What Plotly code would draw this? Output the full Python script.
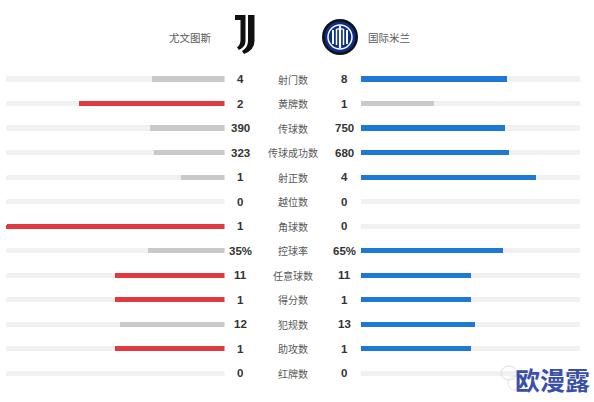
import plotly.graph_objects as go

# ---------------- data ----------------
labels = ['射门数', '黄牌数', '传球数', '传球成功数', '射正数', '越位数', '角球数',
          '控球率', '任意球数', '得分数', '犯规数', '助攻数', '红牌数']
home_vals = [4, 2, 390, 323, 1, 0, 1, 35, 11, 1, 12, 1, 0]
away_vals = [8, 1, 750, 680, 4, 0, 0, 65, 11, 1, 13, 1, 0]
suffix = ['', '', '', '', '', '', '', '%', '', '', '', '', '']
home_team = '尤文图斯'
away_team = '国际米兰'
watermark = '欧漫露'

# ---------------- styles ----------------
W, H = 594, 402
RED = '#df3a40'
BLUE = '#1d78d6'
LOSE = '#c9c9c9'
TRACK = '#f1f1f1'
CJK = 'Noto Sans CJK SC'

n = len(labels)
rows = list(range(n))
home_frac, away_frac, home_col, away_col = [], [], [], []
for h, a in zip(home_vals, away_vals):
    s = h + a
    home_frac.append(h / s if s else 0)
    away_frac.append(a / s if s else 0)
    home_col.append(RED if (h >= a and h > 0) else LOSE)
    away_col.append(BLUE if (a >= h and a > 0) else LOSE)

row0_px, row_step = 79, 24.53
y_top = -row0_px / row_step
y_bot = (H - row0_px) / row_step
bar_w = 5.2 / row_step

fig = go.Figure()
common = dict(orientation='h', width=bar_w, hoverinfo='skip', showlegend=False,
              marker_line_width=0, marker_cornerradius='50%')
fig.add_trace(go.Bar(x=[1] * n, y=rows, marker_color=TRACK, xaxis='x', yaxis='y', **common))
fig.add_trace(go.Bar(x=home_frac, y=rows, marker_color=home_col, xaxis='x', yaxis='y', **common))
fig.add_trace(go.Bar(x=[1] * n, y=rows, marker_color=TRACK, xaxis='x2', yaxis='y', **common))
fig.add_trace(go.Bar(x=away_frac, y=rows, marker_color=away_col, xaxis='x2', yaxis='y', **common))
# invisible trace for the pixel-space decoration axis
fig.add_trace(go.Scatter(x=[0], y=[0], mode='markers', marker_opacity=0,
                         xaxis='x3', yaxis='y3', hoverinfo='skip', showlegend=False))

annotations = []
for i in rows:
    annotations.append(dict(x=240 / W, y=i, xref='paper', yref='y', text=f'<b>{home_vals[i]}{suffix[i]}</b>',
                            showarrow=False, xanchor='center', yanchor='middle',
                            font=dict(family='Liberation Sans', size=11.5, color='#333333')))
    annotations.append(dict(x=344 / W, y=i, xref='paper', yref='y', text=f'<b>{away_vals[i]}{suffix[i]}</b>',
                            showarrow=False, xanchor='center', yanchor='middle',
                            font=dict(family='Liberation Sans', size=11.5, color='#333333')))
    annotations.append(dict(x=292.5 / W, y=i, xref='paper', yref='y', text=labels[i],
                            showarrow=False, xanchor='center', yanchor='middle',
                            font=dict(family=CJK, size=10, color='#595959')))

annotations.append(dict(x=190, y=37, xref='x3', yref='y3', text=home_team, showarrow=False,
                        font=dict(family=CJK, size=10.5, color='#595959')))
annotations.append(dict(x=389, y=37, xref='x3', yref='y3', text=away_team, showarrow=False,
                        font=dict(family=CJK, size=10.5, color='#595959')))
annotations.append(dict(x=552, y=379, xref='x3', yref='y3', text=f'<b>{watermark}</b>', showarrow=False,
                        font=dict(family=CJK, size=25, color='#3a4fa8')))

shapes = []
d = dict(xref='x3', yref='y3')
# Juventus logo (two J strokes)
shapes.append(dict(type='path', path='M235,15 L245.5,15 L245.5,41 Q245.5,47 239,50 L237,47.5 Q240.5,45 240.5,40 L240.5,20 L235,20 Z',
                   fillcolor='#111111', line_width=0, **d))
shapes.append(dict(type='path', path='M248,15 L254.5,15 L254.5,41 Q254.5,50 244,54 L242,51 Q248,47.5 248,40.5 Z',
                   fillcolor='#111111', line_width=0, **d))
# Inter logo
cx, cy = 340, 37
shapes.append(dict(type='circle', x0=cx - 18, x1=cx + 18, y0=cy - 18, y1=cy + 18,
                   fillcolor='#111111', line_width=0, **d))
shapes.append(dict(type='circle', x0=cx - 15.5, x1=cx + 15.5, y0=cy - 15.5, y1=cy + 15.5,
                   fillcolor='#0b2d8c', line_width=0, **d))
shapes.append(dict(type='circle', x0=cx - 12, x1=cx + 12, y0=cy - 12, y1=cy + 12,
                   fillcolor='rgba(0,0,0,0)', line=dict(color='white', width=1.5), **d))
for dx, y0, y1, wdt in [(-7, 30, 44, 2), (-3.5, 29, 45, 1.5), (0, 26, 48, 2.2),
                        (3.5, 29, 45, 1.5), (7, 30, 44, 2)]:
    shapes.append(dict(type='line', x0=cx + dx, x1=cx + dx, y0=y0, y1=y1,
                       line=dict(color='white', width=wdt), **d))
shapes.append(dict(type='line', x0=cx - 3.5, x1=cx + 3.5, y0=29, y1=29,
                   line=dict(color='white', width=1.2), **d))
# faint wechat-like marks by the watermark
shapes.append(dict(type='circle', x0=501, x1=517, y0=366, y1=380,
                   line=dict(color='#dddddd', width=1), fillcolor='rgba(0,0,0,0)', **d))
shapes.append(dict(type='circle', x0=508, x1=522, y0=376, y1=390,
                   line=dict(color='#e4e4e4', width=1), fillcolor='rgba(0,0,0,0)', **d))

hidden = dict(visible=False, fixedrange=True, showgrid=False, zeroline=False)
fig.update_layout(
    width=W, height=H, margin=dict(l=0, r=0, t=0, b=0),
    paper_bgcolor='white', plot_bgcolor='rgba(0,0,0,0)',
    barmode='overlay', bargap=0,
    xaxis=dict(domain=[6 / W, 224.5 / W], range=[1, 0], anchor='y', **hidden),
    xaxis2=dict(domain=[361 / W, 580 / W], range=[0, 1], anchor='y', **hidden),
    yaxis=dict(domain=[0, 1], range=[y_bot, y_top], anchor='x', **hidden),
    xaxis3=dict(domain=[0, 1], range=[0, W], anchor='y3', **hidden),
    yaxis3=dict(domain=[0, 1], range=[H, 0], anchor='x3', **hidden),
    annotations=annotations, shapes=shapes,
)
fig.write_html('out.html', config={'displayModeBar': False},
               post_script="document.body.style.margin='0';")
